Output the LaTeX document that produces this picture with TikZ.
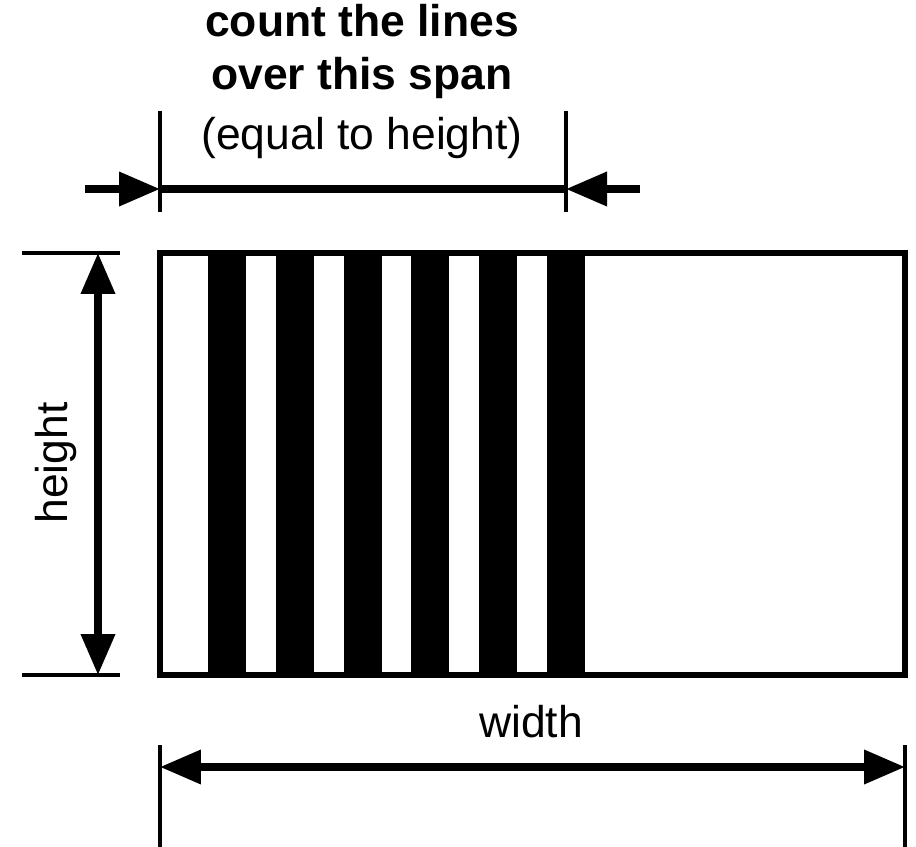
\documentclass[tikz,border=0pt]{standalone}
\usepackage{fontspec}
\setmainfont{Liberation Sans}
\usetikzlibrary{arrows.meta}

\begin{document}
\begin{tikzpicture}[
  x=0.02cm,y=-0.02cm,
  >={Triangle[length=0.82cm,width=0.66cm]},
  dimline/.style={line width=4pt},
  extline/.style={line width=2.8pt},
  bar/.style={fill=black},
  frame/.style={line width=3.2pt},
  dimtext/.style={font=\fontsize{25.3}{30}\selectfont,inner sep=0pt,anchor=base}
]
\useasboundingbox (0,0) rectangle (916,847);

% grating with its lines
\foreach \i in {0,...,5}
  \fill[bar] ({208+67.8*\i},253) rectangle ++(38,422);
\draw[frame] (160,253) coordinate (tl) rectangle (905,675) coordinate (br);

% span to count over
\coordinate (spanL) at (160,189);
\coordinate (spanR) at (566,189);
\coordinate (inL) at (85,189);
\coordinate (inR) at (640,189);
\draw[extline] (spanL) ++(0,-78) -- ++(0,101);
\draw[extline] (spanR) ++(0,-78) -- ++(0,101);
\draw[dimline] (spanL) -- (spanR);
\draw[dimline,->] (inL) -- (spanL);
\draw[dimline,->] (inR) -- (spanR);

\node[dimtext,font=\fontsize{25.3}{30}\selectfont\bfseries] (count) at (362,37) {count the lines};
\node[dimtext,font=\fontsize{25.3}{30}\selectfont\bfseries] (over) at (362,90) {over this span};
\node[dimtext] (equal) at (362,150) {(equal to height)};

% height
\coordinate (hTop) at (98,253);
\coordinate (hBot) at (98,675);
\draw[extline] (hTop) ++(-76,0) -- ++(98,0);
\draw[extline] (hBot) ++(-76,0) -- ++(98,0);
\draw[dimline,<->] (hTop) -- (hBot);
\node[dimtext,rotate=90] (height) at (67,463) {height};

% width
\coordinate (wL) at (160,767);
\coordinate (wR) at (905,767);
\draw[extline] (wL) ++(0,-22) -- ++(0,102);
\draw[extline] (wR) ++(0,-22) -- ++(0,102);
\draw[dimline,<->] (wL) -- (wR);
\node[dimtext] (width) at (531,737) {width};
\end{tikzpicture}
\end{document}
